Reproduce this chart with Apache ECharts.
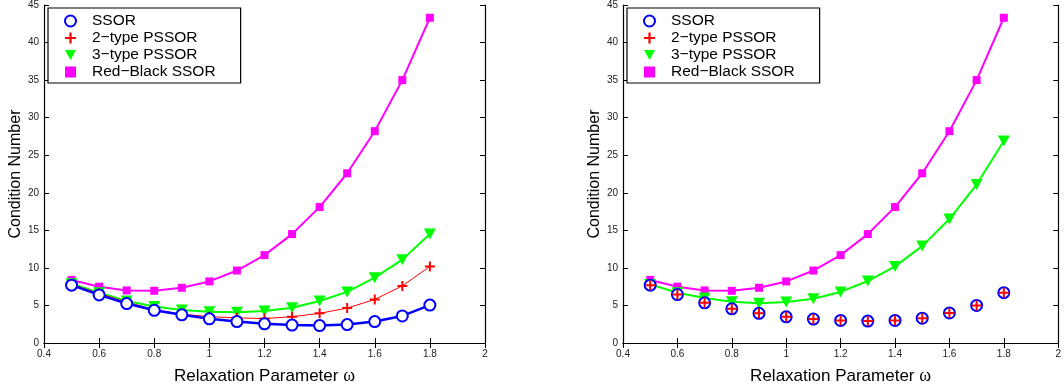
<!DOCTYPE html>
<html>
<head>
<meta charset="utf-8">
<script src="https://cdn.jsdelivr.net/npm/echarts@6/dist/echarts.min.js"></script>
<style>
  html, body { margin: 0; padding: 0; background: #fff; }
  #chart { width: 1064px; height: 390px; }
</style>
</head>
<body>
<div id="chart"></div>
<script>
// relaxation parameter values
const omega = [0.5, 0.6, 0.7, 0.8, 0.9, 1.0, 1.1, 1.2, 1.3, 1.4, 1.5, 1.6, 1.7, 1.8];

// left panel
const ssorL = [7.7, 6.4, 5.25, 4.35, 3.75, 3.22, 2.85, 2.55, 2.38, 2.32, 2.45, 2.85, 3.6, 5.05];
const pssor2L = [7.8, 6.6, 5.45, 4.45, 3.85, 3.5, 3.35, 3.25, 3.5, 3.95, 4.65, 5.8, 7.6, 10.2];
const pssor3L = [7.9, 6.7, 5.6, 4.85, 4.4, 4.15, 4.1, 4.25, 4.7, 5.6, 6.8, 8.7, 11.1, 14.5];
const rbssorL = [8.4, 7.5, 7.0, 6.95, 7.35, 8.2, 9.65, 11.7, 14.5, 18.1, 22.6, 28.2, 35.0, 43.3];

// right panel
const ssorR = [7.7, 6.45, 5.35, 4.55, 3.95, 3.48, 3.18, 3.0, 2.92, 3.0, 3.3, 4.0, 5.0, 6.7];
const pssor2R = [7.7, 6.45, 5.35, 4.55, 3.95, 3.48, 3.18, 3.0, 2.92, 3.0, 3.3, 4.0, 5.0, 6.7];
const pssor3R = [7.8, 6.7, 6.0, 5.5, 5.3, 5.45, 5.9, 6.8, 8.25, 10.2, 12.9, 16.5, 21.1, 26.9];
const rbssorR = [8.4, 7.5, 7.0, 6.95, 7.35, 8.2, 9.65, 11.7, 14.5, 18.1, 22.6, 28.2, 35.0, 43.3];

const names = ['SSOR', '2\u2212type PSSOR', '3\u2212type PSSOR', 'Red\u2212Black SSOR'];

const BLUE = '#0000ff', RED = '#ff0000', GREEN = '#00ff00', MAGENTA = '#ff00ff';
const PLUS = 'path://M4,0h2v4h4v2h-4v4h-2v-4h-4v-2h4z';
const TRI = 'path://M0,0L10,0L5,9Z';
const FONT = 'Liberation Sans, Arial, sans-serif';

const pairs = (ys) => omega.map((x, i) => [x, ys[i]]);

const grids = [
  { left: 44, top: 4, width: 441, height: 348 },
  { left: 623, top: 4, width: 440, height: 348 }
];

const tickStyle = { fontSize: 10, color: '#222', fontFamily: FONT };
const lineSty = { lineStyle: { color: '#000', width: 1.2 } };
const tickSty = { inside: true, length: 5, lineStyle: { color: '#000' } };

const xAxes = [];
const yAxes = [];
grids.forEach((g, i) => {
  xAxes.push({
    type: 'value', gridIndex: i, min: 0.4, max: 2, interval: 0.2,
    axisLine: lineSty, splitLine: { show: false }, axisTick: tickSty,
    axisLabel: Object.assign({ margin: 6, formatter: v => +v.toFixed(1) + '' }, tickStyle),
    name: '{a|Relaxation Parameter }{b|\u03c9}',
    nameLocation: 'middle', nameGap: 24,
    nameTextStyle: {
      rich: {
        a: { fontSize: 17, color: '#000', fontFamily: FONT },
        b: { fontSize: 18, color: '#000', fontFamily: 'Liberation Serif, serif' }
      }
    }
  });
  xAxes.push({
    type: 'value', gridIndex: i, position: 'top', min: 0.4, max: 2, interval: 0.2,
    axisLine: lineSty, splitLine: { show: false }, axisTick: tickSty,
    axisLabel: { show: false }
  });
  yAxes.push({
    type: 'value', gridIndex: i, min: 0, max: 45, interval: 5,
    axisLine: lineSty, splitLine: { show: false }, axisTick: tickSty,
    axisLabel: Object.assign({ margin: 5 }, tickStyle),
    name: 'Condition Number', nameLocation: 'middle', nameGap: 19,
    nameTextStyle: { fontSize: 16, color: '#000', fontFamily: FONT }
  });
  yAxes.push({
    type: 'value', gridIndex: i, position: 'right', min: 0, max: 45, interval: 5,
    axisLine: lineSty, splitLine: { show: false }, axisTick: tickSty,
    axisLabel: { show: false }
  });
});

function mk(name, data, panel, opts) {
  return Object.assign({
    name: name, type: 'line', data: pairs(data),
    xAxisIndex: panel * 2, yAxisIndex: panel * 2,
    smooth: false, z: 3, animation: false
  }, opts);
}

const ssorStyle = (withLine) => ({
  symbol: 'emptyCircle', symbolSize: 11,
  itemStyle: { color: BLUE, borderWidth: 2 },
  lineStyle: withLine ? { color: BLUE, width: 2.5 } : { width: 0, opacity: 0 }
});
const plusStyle = (withLine) => ({
  symbol: PLUS, symbolSize: 10,
  itemStyle: { color: RED },
  lineStyle: withLine ? { color: RED, width: 1 } : { width: 0, opacity: 0 }
});
const triStyle = {
  symbol: TRI, symbolSize: [12, 11],
  itemStyle: { color: GREEN },
  lineStyle: { color: GREEN, width: 2 }
};
const sqStyle = {
  symbol: 'rect', symbolSize: 8,
  itemStyle: { color: MAGENTA },
  lineStyle: { color: MAGENTA, width: 2 }
};

const series = [
  mk(names[3], rbssorL, 0, sqStyle),
  mk(names[2], pssor3L, 0, triStyle),
  mk(names[1], pssor2L, 0, plusStyle(true)),
  mk(names[0], ssorL, 0, ssorStyle(true)),
  mk(names[3], rbssorR, 1, sqStyle),
  mk(names[2], pssor3R, 1, triStyle),
  mk(names[0], ssorR, 1, ssorStyle(false)),
  mk(names[1], pssor2R, 1, Object.assign(plusStyle(false), { z: 5 }))
];

const legendData = [
  { name: names[0], icon: 'emptyCircle', itemStyle: { color: BLUE, borderColor: BLUE, borderWidth: 2 } },
  { name: names[1], icon: PLUS, itemStyle: { color: RED } },
  { name: names[2], icon: TRI, itemStyle: { color: GREEN } },
  { name: names[3], icon: 'rect', itemStyle: { color: MAGENTA } }
];

const legendBase = {
  orient: 'vertical', top: 8, data: legendData,
  itemWidth: 11, itemHeight: 11, itemGap: 1,
  padding: [5, 25, 3, 16],
  backgroundColor: '#fff', borderColor: '#000', borderWidth: 1.2,
  textStyle: { fontSize: 15.5, color: '#000', fontFamily: FONT, padding: [0, 0, 0, 11] },
  selectedMode: false
};

const option = {
  animation: false,
  grid: grids,
  xAxis: xAxes,
  yAxis: yAxes,
  legend: [
    Object.assign({ left: 48 }, legendBase),
    Object.assign({ left: 627 }, legendBase)
  ],
  series: series
};

const chart = echarts.init(document.getElementById('chart'));
chart.setOption(option);
</script>
</body>
</html>
